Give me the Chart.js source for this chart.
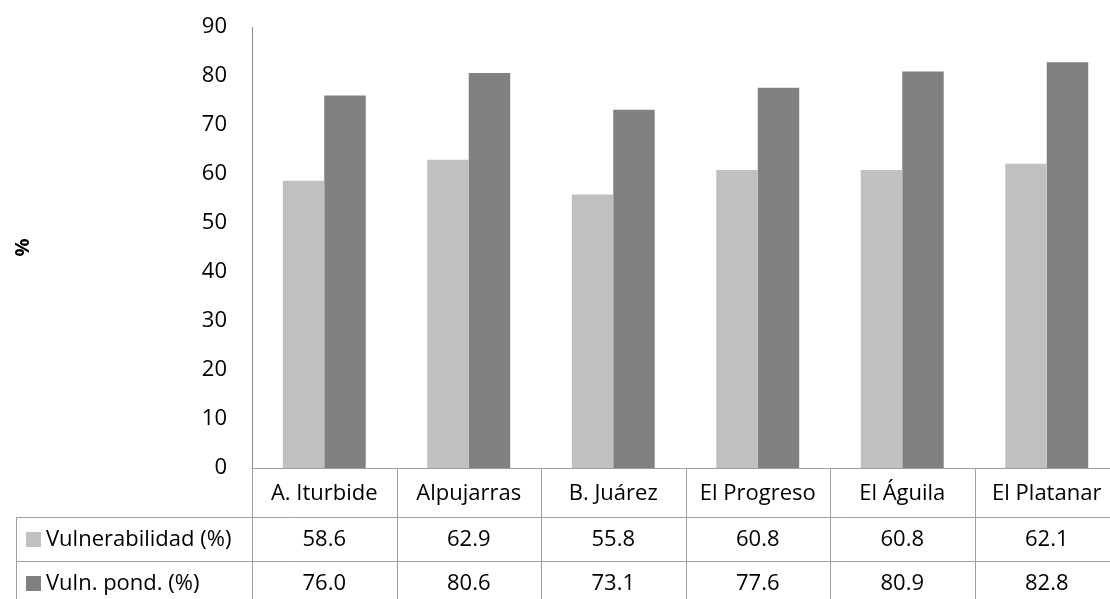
<!DOCTYPE html>
<html>
<head>
<meta charset="utf-8">
<script src="https://cdn.jsdelivr.net/npm/chart.js@4/dist/chart.umd.min.js"></script>
<style>
  html, body { margin: 0; padding: 0; background: #fff; overflow: hidden; }
  #wrap { width: 1122px; height: 599px; }
</style>
</head>
<body>
<div id="wrap"><canvas id="c" width="1122" height="599"></canvas></div>
<script>
// Localities and the two vulnerability series (percent)
const categories = ['A. Iturbide', 'Alpujarras', 'B. Juárez', 'El Progreso', 'El Águila', 'El Platanar'];
const seriesNames = ['Vulnerabilidad (%)', 'Vuln. pond. (%)'];
const vulnerabilidad = [58.6, 62.9, 55.8, 60.8, 60.8, 62.1];
const vulnPonderada = [76.0, 80.6, 73.1, 77.6, 80.9, 82.8];
const yTicks = [0, 10, 20, 30, 40, 50, 60, 70, 80, 90];

const FONT = '"Open Sans", Lato, "Liberation Sans", sans-serif';
const LINE = '#a0a0a0';
const colors = ['#c0c0c0', '#808080'];

// Draws the data table beneath the plot: category row plus one row per series
const dataTable = {
  id: 'dataTable',
  afterDraw(chart) {
    const { ctx, chartArea: a, scales: { x } } = chart;
    const n = categories.length;
    const colW = (a.right - a.left) / n;
    const catBottom = a.bottom + 49;
    const rowH = 44;
    const tableLeft = 16;
    const W = chart.width;
    const H = chart.height;
    ctx.save();
    ctx.strokeStyle = LINE;
    ctx.lineWidth = 1;
    ctx.beginPath();
    // axis line / top of category row
    ctx.moveTo(a.left, a.bottom + 0.5);
    ctx.lineTo(W, a.bottom + 0.5);
    // column boundaries
    for (let i = 0; i <= n; i++) {
      const xx = Math.round(a.left + i * colW) + 0.5;
      ctx.moveTo(xx, a.bottom);
      ctx.lineTo(xx, H);
    }
    // series row boundaries
    for (let r = 0; r < 2; r++) {
      const yy = catBottom + r * rowH + 0.5;
      ctx.moveTo(tableLeft, yy);
      ctx.lineTo(W, yy);
    }
    ctx.moveTo(tableLeft + 0.5, catBottom);
    ctx.lineTo(tableLeft + 0.5, H);
    ctx.stroke();

    ctx.fillStyle = '#000';
    ctx.font = '22px ' + FONT;
    ctx.textBaseline = 'middle';
    ctx.textAlign = 'center';
    categories.forEach((c, i) => {
      ctx.fillText(c, x.getPixelForValue(i), (a.bottom + catBottom) / 2 + 1);
    });
    const rows = [vulnerabilidad, vulnPonderada];
    rows.forEach((vals, r) => {
      const cy = catBottom + r * rowH + rowH / 2 + 1;
      ctx.textAlign = 'left';
      ctx.fillStyle = colors[r];
      ctx.fillRect(26, cy - 8, 15, 15);
      ctx.fillStyle = '#000';
      ctx.fillText(seriesNames[r], 46, cy);
      ctx.textAlign = 'center';
      vals.forEach((v, i) => ctx.fillText(v.toFixed(1), x.getPixelForValue(i), cy));
    });
    ctx.restore();
  }
};

new Chart(document.getElementById('c'), {
  type: 'bar',
  data: {
    labels: categories,
    datasets: [
      { label: seriesNames[0], data: vulnerabilidad, backgroundColor: colors[0] },
      { label: seriesNames[1], data: vulnPonderada, backgroundColor: colors[1] }
    ]
  },
  options: {
    responsive: false,
    devicePixelRatio: 1,
    animation: false,
    layout: { padding: { top: 27, bottom: 131, left: 0, right: 3 } },
    plugins: { legend: { display: false }, tooltip: { enabled: false } },
    datasets: { bar: { categoryPercentage: 0.574, barPercentage: 1.0 } },
    scales: {
      x: { display: false },
      y: {
        min: 0,
        max: 90,
        afterBuildTicks: (s) => { s.ticks = yTicks.map(v => ({ value: v })); },
        afterFit: (s) => { s.width = 252; s.paddingTop = 12; s.paddingBottom = 12; },
        grid: { display: false, drawTicks: false },
        border: { display: true, color: '#8c8c8c', width: 1 },
        ticks: { padding: 25, color: '#000', font: { family: FONT, size: 22 } },
        title: {
          display: true,
          text: '%',
          color: '#000',
          font: { family: FONT, size: 20, weight: 'bold' },
          padding: { top: 11, bottom: 0 }
        }
      }
    }
  },
  plugins: [dataTable]
});
</script>
</body>
</html>
